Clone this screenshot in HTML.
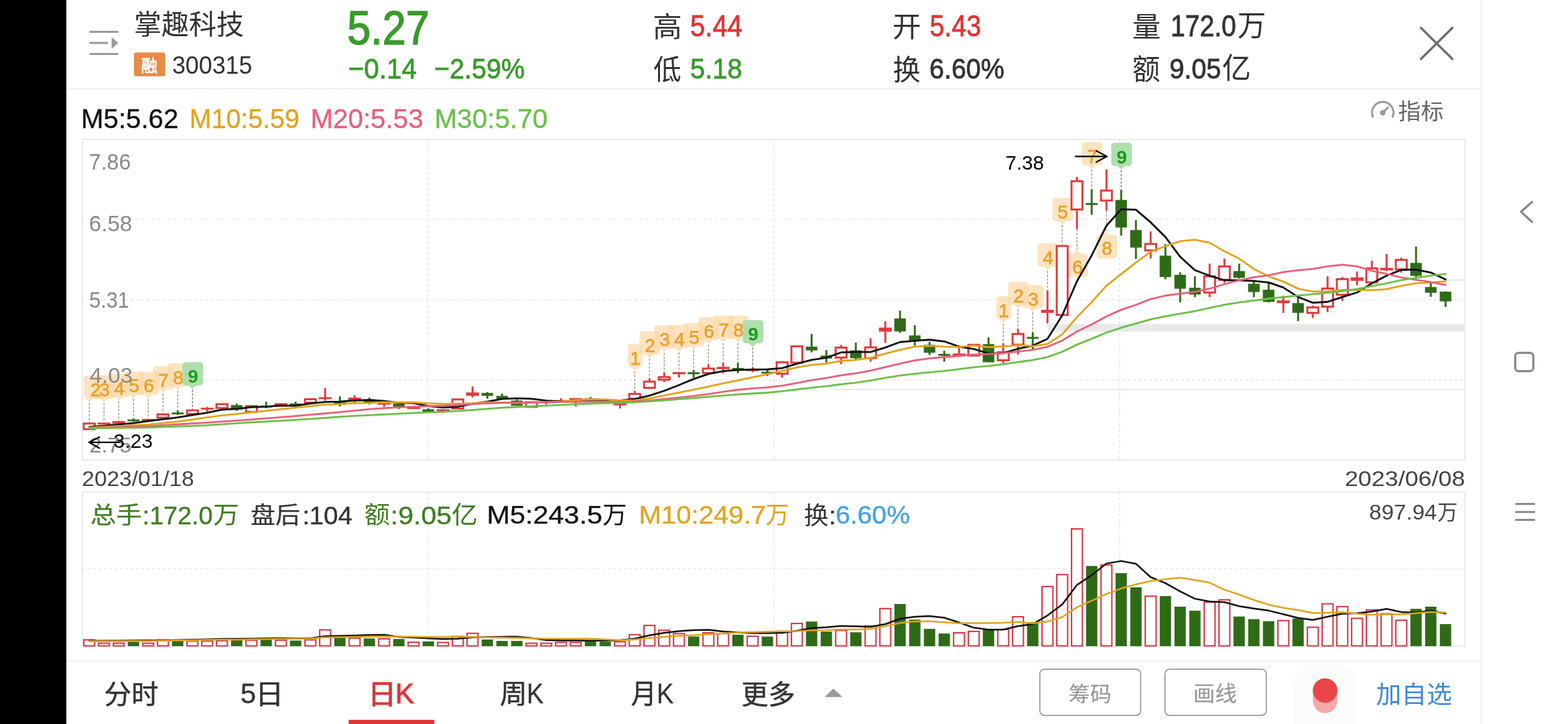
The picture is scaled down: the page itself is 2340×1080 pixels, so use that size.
<!DOCTYPE html>
<html lang="zh-CN">
<head>
<meta charset="utf-8">
<title>掌趣科技 300315 日K</title>
<style>
html,body{margin:0;padding:0;background:#ffffff;}
body{width:2340px;height:1080px;overflow:hidden;position:relative;font-family:"Liberation Sans","Noto Sans CJK SC",sans-serif;}
.leftbar{position:absolute;left:0;top:0;width:99.4px;height:1080px;background:#000000;}
.hsep{position:absolute;left:99px;width:2111px;height:2px;background:#f1f1f1;}
.vsep{position:absolute;left:2209.5px;top:0;width:1.6px;height:1080px;background:#e4e4e4;}
svg{position:absolute;left:0;top:0;will-change:transform;}
svg text{font-family:"Liberation Sans","Noto Sans CJK SC",sans-serif;white-space:pre;font-kerning:none;}
</style>
</head>
<body>
<div class="leftbar"></div>
<div class="hsep" style="top:130.7px"></div>
<div class="hsep" style="top:985.3px"></div>
<div class="vsep"></div>
<svg width="2340" height="1080" viewBox="0 0 2340 1080">
<g id="header">
<line x1="133.5" y1="47.5" x2="176.5" y2="47.5" stroke="#999999" stroke-width="3"/>
<line x1="133.5" y1="64" x2="161" y2="64" stroke="#999999" stroke-width="3"/>
<line x1="133.5" y1="80.5" x2="176.5" y2="80.5" stroke="#999999" stroke-width="3"/>
<path d="M166.6 55.5 L176.4 64 L166.6 73 Z" fill="#9a9a9a"/>
<text transform="translate(200.08 51.36) scale(0.9939 1)" font-size="41.21" fill="#333333">掌趣科技</text>
<rect x="200" y="78.2" width="46.6" height="35.5" fill="#e98b45" rx="3.5"/>
<text transform="translate(210.6 106.66) scale(0.9624 1)" font-size="25.52" fill="#ffffff" stroke="#ffffff" stroke-width="0.8">融</text>
<text transform="translate(256.94 109.63) scale(0.9757 1)" font-size="36.72" fill="#333333">300315</text>
<text transform="translate(518.28 65.99) scale(0.8903 1)" font-size="70.62" fill="#3a9a2c" stroke="#3a9a2c" stroke-width="1.6">5.27</text>
<text transform="translate(519.71 117.08) scale(0.9539 1)" font-size="42.37" fill="#3a9a2c" stroke="#3a9a2c" stroke-width="0.8">−0.14</text>
<text transform="translate(648.05 117.08) scale(0.9321 1)" font-size="42.37" fill="#3a9a2c" stroke="#3a9a2c" stroke-width="0.8">−2.59%</text>
<text transform="translate(974.13 54.95) scale(1.0285 1)" font-size="42.41" fill="#333333">高</text>
<text transform="translate(1030.1 53.76) scale(0.9155 1)" font-size="43.64" fill="#e03437" stroke="#e03437" stroke-width="0.8">5.44</text>
<text transform="translate(975.08 118.93) scale(0.9831 1)" font-size="42.52" fill="#333333">低</text>
<text transform="translate(1030.11 117.08) scale(0.9388 1)" font-size="42.37" fill="#3a9a2c" stroke="#3a9a2c" stroke-width="0.8">5.18</text>
<text transform="translate(1331.77 54.72) scale(1.0073 1)" font-size="42.61" fill="#333333">开</text>
<text transform="translate(1387.42 53.76) scale(0.9043 1)" font-size="43.64" fill="#e03437" stroke="#e03437" stroke-width="0.8">5.43</text>
<text transform="translate(1332.51 119.06) scale(0.9715 1)" font-size="42.47" fill="#333333">换</text>
<text transform="translate(1387 117.08) scale(0.9314 1)" font-size="42.37" fill="#333333" stroke="#333333" stroke-width="0.8">6.60%</text>
<text transform="translate(1689.7 55.16) scale(0.9995 1)" font-size="42.53" fill="#333333">量</text>
<text transform="translate(1747.02 53.76) scale(0.8955 1)" font-size="43.64" fill="#333333" stroke="#333333" stroke-width="0.8">172.0</text>
<text transform="translate(1846.86 53.87) scale(0.9584 1)" font-size="44.27" fill="#333333">万</text>
<text transform="translate(1690.09 118.85) scale(0.9526 1)" font-size="43.43" fill="#333333">额</text>
<text transform="translate(1745.14 117.08) scale(0.9377 1)" font-size="42.37" fill="#333333" stroke="#333333" stroke-width="0.8">9.05</text>
<text transform="translate(1823.66 117.39) scale(0.9897 1)" font-size="43.67" fill="#333333">亿</text>
<path d="M2120.5 41.5 L2167.5 88 M2167.5 41.5 L2120.5 88" stroke="#6e6e6e" stroke-width="3.3" stroke-linecap="round" fill="none"/>
</g>
<g id="legend">
<text transform="translate(121.1 190.6) scale(1.0054 1)" font-size="39.97" fill="#111111" stroke="#111111" stroke-width="0.35">M5:5.62</text>
<text transform="translate(282.77 190.6) scale(0.9846 1)" font-size="39.97" fill="#e0a41e" stroke="#e0a41e" stroke-width="0.35">M10:5.59</text>
<text transform="translate(463.39 190.6) scale(1.0104 1)" font-size="39.97" fill="#e8607c" stroke="#e8607c" stroke-width="0.35">M20:5.53</text>
<text transform="translate(648.38 190.6) scale(1.0135 1)" font-size="39.97" fill="#6cc04a" stroke="#6cc04a" stroke-width="0.35">M30:5.70</text>
<path d="M2048.7 174.2 A16 16 0 1 1 2078.3 174.2" stroke="#999999" stroke-width="3" fill="none" stroke-linecap="round"/>
<circle cx="2063.5" cy="168.2" r="4" fill="#999999"/>
<path d="M2063.5 168.2 L2071.3 160.2" stroke="#999999" stroke-width="3" stroke-linecap="round"/>
<text transform="translate(2086.45 178.21) scale(1.0385 1)" font-size="32.75" fill="#666666">指标</text>
</g>
<g id="kchart">
<line x1="122.8" y1="327" x2="2186.4" y2="327" stroke="#e2e2e2" stroke-width="1.2" stroke-dasharray="4.2 3.8"/>
<line x1="122.8" y1="446.8" x2="2186.4" y2="446.8" stroke="#e2e2e2" stroke-width="1.2" stroke-dasharray="4.2 3.8"/>
<line x1="122.8" y1="566.8" x2="2186.4" y2="566.8" stroke="#e2e2e2" stroke-width="1.2" stroke-dasharray="4.2 3.8"/>
<line x1="638.6" y1="207.8" x2="638.6" y2="686" stroke="#e2e2e2" stroke-width="1.2" stroke-dasharray="4.2 3.8"/>
<line x1="1154.9" y1="207.8" x2="1154.9" y2="686" stroke="#e2e2e2" stroke-width="1.2" stroke-dasharray="4.2 3.8"/>
<line x1="1670.8" y1="207.8" x2="1670.8" y2="686" stroke="#e2e2e2" stroke-width="1.2" stroke-dasharray="4.2 3.8"/>
<rect x="1563.3" y="483.3" width="623.1" height="11.2" fill="#e9e9e9"/>
<line x1="1243" y1="581" x2="2186.4" y2="581" stroke="#e6e6e6" stroke-width="2"/>
<line x1="2157.8" y1="417.8" x2="2186.4" y2="417.8" stroke="#e4e4e4" stroke-width="2"/>
<rect x="122.8" y="207.8" width="2063.6" height="478.2" fill="none" stroke="#e7e7e7" stroke-width="1.8"/>
<path d="M130.3 560 h21 a5 5 0 0 1 5 5 v24.9 a5 5 0 0 1 -5 5 H138.7 L133.2 599.9 L127.7 594.9 H130.3 a5 5 0 0 1 -5 -5 v-24.9 a5 5 0 0 1 5 -5 Z" fill="#fbd9a8" fill-opacity="0.70"/>
<line x1="133.2" y1="600.9" x2="133.2" y2="630.4" stroke="#6f6634" stroke-width="0.9" stroke-dasharray="3.6 2"/>
<path d="M145.3 560 h21 a5 5 0 0 1 5 5 v24.9 a5 5 0 0 1 -5 5 H160.7 L155.2 599.9 L149.7 594.9 H145.3 a5 5 0 0 1 -5 -5 v-24.9 a5 5 0 0 1 5 -5 Z" fill="#fbd9a8" fill-opacity="0.70"/>
<line x1="155.2" y1="600.9" x2="155.2" y2="630.4" stroke="#6f6634" stroke-width="0.9" stroke-dasharray="3.6 2"/>
<path d="M167.3 557.8 h21 a5 5 0 0 1 5 5 v24.9 a5 5 0 0 1 -5 5 H182.7 L177.2 597.7 L171.7 592.7 H167.3 a5 5 0 0 1 -5 -5 v-24.9 a5 5 0 0 1 5 -5 Z" fill="#fbd9a8" fill-opacity="0.70"/>
<line x1="177.2" y1="598.7" x2="177.2" y2="628.2" stroke="#6f6634" stroke-width="0.9" stroke-dasharray="3.6 2"/>
<path d="M189.3 554 h21 a5 5 0 0 1 5 5 v24.9 a5 5 0 0 1 -5 5 H204.7 L199.2 593.9 L193.7 588.9 H189.3 a5 5 0 0 1 -5 -5 v-24.9 a5 5 0 0 1 5 -5 Z" fill="#fbd9a8" fill-opacity="0.70"/>
<line x1="199.2" y1="594.9" x2="199.2" y2="624.4" stroke="#6f6634" stroke-width="0.9" stroke-dasharray="3.6 2"/>
<path d="M211.3 554.5 h21 a5 5 0 0 1 5 5 v24.9 a5 5 0 0 1 -5 5 H226.7 L221.2 594.4 L215.7 589.4 H211.3 a5 5 0 0 1 -5 -5 v-24.9 a5 5 0 0 1 5 -5 Z" fill="#fbd9a8" fill-opacity="0.70"/>
<line x1="221.2" y1="595.4" x2="221.2" y2="624.9" stroke="#6f6634" stroke-width="0.9" stroke-dasharray="3.6 2"/>
<path d="M233.3 546.3 h21 a5 5 0 0 1 5 5 v24.9 a5 5 0 0 1 -5 5 H248.7 L243.2 586.2 L237.7 581.2 H233.3 a5 5 0 0 1 -5 -5 v-24.9 a5 5 0 0 1 5 -5 Z" fill="#fbd9a8" fill-opacity="0.70"/>
<line x1="243.2" y1="587.2" x2="243.2" y2="616.7" stroke="#6f6634" stroke-width="0.9" stroke-dasharray="3.6 2"/>
<path d="M255.3 541.8 h21 a5 5 0 0 1 5 5 v24.9 a5 5 0 0 1 -5 5 H270.7 L265.2 581.7 L259.7 576.7 H255.3 a5 5 0 0 1 -5 -5 v-24.9 a5 5 0 0 1 5 -5 Z" fill="#fbd9a8" fill-opacity="0.70"/>
<line x1="265.2" y1="582.7" x2="265.2" y2="612.2" stroke="#6f6634" stroke-width="0.9" stroke-dasharray="3.6 2"/>
<path d="M277.3 540.3 h21 a5 5 0 0 1 5 5 v24.9 a5 5 0 0 1 -5 5 H292.7 L287.2 580.2 L281.7 575.2 H277.3 a5 5 0 0 1 -5 -5 v-24.9 a5 5 0 0 1 5 -5 Z" fill="#a9dba9" fill-opacity="0.92"/>
<line x1="287.2" y1="581.2" x2="287.2" y2="610.7" stroke="#27471e" stroke-width="0.9" stroke-dasharray="3.6 2"/>
<path d="M941.9 512.8 h11.8 a5 5 0 0 1 5 5 v24.9 a5 5 0 0 1 -5 5 H952.7 L947.2 552.7 L941.7 547.7 H941.9 a5 5 0 0 1 -5 -5 v-24.9 a5 5 0 0 1 5 -5 Z" fill="#fbd9a8" fill-opacity="0.70"/>
<line x1="947.2" y1="553.7" x2="947.2" y2="583.2" stroke="#6f6634" stroke-width="0.9" stroke-dasharray="3.6 2"/>
<path d="M959.3 494 h21 a5 5 0 0 1 5 5 v24.9 a5 5 0 0 1 -5 5 H974.7 L969.2 533.9 L963.7 528.9 H959.3 a5 5 0 0 1 -5 -5 v-24.9 a5 5 0 0 1 5 -5 Z" fill="#fbd9a8" fill-opacity="0.70"/>
<line x1="969.2" y1="534.9" x2="969.2" y2="564.4" stroke="#6f6634" stroke-width="0.9" stroke-dasharray="3.6 2"/>
<path d="M981.3 485.2 h21 a5 5 0 0 1 5 5 v24.9 a5 5 0 0 1 -5 5 H996.7 L991.2 525.1 L985.7 520.1 H981.3 a5 5 0 0 1 -5 -5 v-24.9 a5 5 0 0 1 5 -5 Z" fill="#fbd9a8" fill-opacity="0.70"/>
<line x1="991.2" y1="526.1" x2="991.2" y2="555.6" stroke="#6f6634" stroke-width="0.9" stroke-dasharray="3.6 2"/>
<path d="M1003.3 484.7 h21 a5 5 0 0 1 5 5 v24.9 a5 5 0 0 1 -5 5 H1018.7 L1013.2 524.6 L1007.7 519.6 H1003.3 a5 5 0 0 1 -5 -5 v-24.9 a5 5 0 0 1 5 -5 Z" fill="#fbd9a8" fill-opacity="0.70"/>
<line x1="1013.2" y1="525.6" x2="1013.2" y2="555.1" stroke="#6f6634" stroke-width="0.9" stroke-dasharray="3.6 2"/>
<path d="M1025.3 481.8 h21 a5 5 0 0 1 5 5 v24.9 a5 5 0 0 1 -5 5 H1040.7 L1035.2 521.7 L1029.7 516.7 H1025.3 a5 5 0 0 1 -5 -5 v-24.9 a5 5 0 0 1 5 -5 Z" fill="#fbd9a8" fill-opacity="0.70"/>
<line x1="1035.2" y1="522.7" x2="1035.2" y2="552.2" stroke="#6f6634" stroke-width="0.9" stroke-dasharray="3.6 2"/>
<path d="M1047.3 472.9 h21 a5 5 0 0 1 5 5 v24.9 a5 5 0 0 1 -5 5 H1062.7 L1057.2 512.8 L1051.7 507.8 H1047.3 a5 5 0 0 1 -5 -5 v-24.9 a5 5 0 0 1 5 -5 Z" fill="#fbd9a8" fill-opacity="0.70"/>
<line x1="1057.2" y1="513.8" x2="1057.2" y2="543.3" stroke="#6f6634" stroke-width="0.9" stroke-dasharray="3.6 2"/>
<path d="M1069.3 470.7 h21 a5 5 0 0 1 5 5 v24.9 a5 5 0 0 1 -5 5 H1084.7 L1079.2 510.6 L1073.7 505.6 H1069.3 a5 5 0 0 1 -5 -5 v-24.9 a5 5 0 0 1 5 -5 Z" fill="#fbd9a8" fill-opacity="0.70"/>
<line x1="1079.2" y1="511.6" x2="1079.2" y2="541.1" stroke="#6f6634" stroke-width="0.9" stroke-dasharray="3.6 2"/>
<path d="M1091.3 470.7 h21 a5 5 0 0 1 5 5 v24.9 a5 5 0 0 1 -5 5 H1106.7 L1101.2 510.6 L1095.7 505.6 H1091.3 a5 5 0 0 1 -5 -5 v-24.9 a5 5 0 0 1 5 -5 Z" fill="#fbd9a8" fill-opacity="0.70"/>
<line x1="1101.2" y1="511.6" x2="1101.2" y2="541.1" stroke="#6f6634" stroke-width="0.9" stroke-dasharray="3.6 2"/>
<path d="M1113.3 477.4 h21 a5 5 0 0 1 5 5 v24.9 a5 5 0 0 1 -5 5 H1128.7 L1123.2 517.3 L1117.7 512.3 H1113.3 a5 5 0 0 1 -5 -5 v-24.9 a5 5 0 0 1 5 -5 Z" fill="#a9dba9" fill-opacity="0.92"/>
<line x1="1123.2" y1="518.3" x2="1123.2" y2="547.8" stroke="#27471e" stroke-width="0.9" stroke-dasharray="3.6 2"/>
<path d="M1491.9 441.8 h11.8 a5 5 0 0 1 5 5 v24.9 a5 5 0 0 1 -5 5 H1502.7 L1497.2 481.7 L1491.7 476.7 H1491.9 a5 5 0 0 1 -5 -5 v-24.9 a5 5 0 0 1 5 -5 Z" fill="#fbd9a8" fill-opacity="0.70"/>
<line x1="1497.2" y1="482.7" x2="1497.2" y2="512.2" stroke="#6f6634" stroke-width="0.9" stroke-dasharray="3.6 2"/>
<path d="M1509.3 420.3 h21 a5 5 0 0 1 5 5 v24.9 a5 5 0 0 1 -5 5 H1524.7 L1519.2 460.2 L1513.7 455.2 H1509.3 a5 5 0 0 1 -5 -5 v-24.9 a5 5 0 0 1 5 -5 Z" fill="#fbd9a8" fill-opacity="0.70"/>
<line x1="1519.2" y1="461.2" x2="1519.2" y2="490.7" stroke="#6f6634" stroke-width="0.9" stroke-dasharray="3.6 2"/>
<path d="M1531.3 425.2 h21 a5 5 0 0 1 5 5 v24.9 a5 5 0 0 1 -5 5 H1546.7 L1541.2 465.1 L1535.7 460.1 H1531.3 a5 5 0 0 1 -5 -5 v-24.9 a5 5 0 0 1 5 -5 Z" fill="#fbd9a8" fill-opacity="0.70"/>
<line x1="1541.2" y1="466.1" x2="1541.2" y2="495.6" stroke="#6f6634" stroke-width="0.9" stroke-dasharray="3.6 2"/>
<path d="M1553.3 362.9 h21 a5 5 0 0 1 5 5 v24.9 a5 5 0 0 1 -5 5 H1568.7 L1563.2 402.8 L1557.7 397.8 H1553.3 a5 5 0 0 1 -5 -5 v-24.9 a5 5 0 0 1 5 -5 Z" fill="#fbd9a8" fill-opacity="0.70"/>
<line x1="1563.2" y1="403.8" x2="1563.2" y2="433.3" stroke="#6f6634" stroke-width="0.9" stroke-dasharray="3.6 2"/>
<path d="M1575.3 295.1 h21 a5 5 0 0 1 5 5 v24.9 a5 5 0 0 1 -5 5 H1590.7 L1585.2 335 L1579.7 330 H1575.3 a5 5 0 0 1 -5 -5 v-24.9 a5 5 0 0 1 5 -5 Z" fill="#fbd9a8" fill-opacity="0.70"/>
<line x1="1585.2" y1="336" x2="1585.2" y2="365.5" stroke="#6f6634" stroke-width="0.9" stroke-dasharray="3.6 2"/>
<path d="M1597.3 378.3 H1601.7 L1607.2 373.3 L1612.7 378.3 H1618.3 a5 5 0 0 1 5 5 v24.9 a5 5 0 0 1 -5 5 h-21 a5 5 0 0 1 -5 -5 v-24.9 a5 5 0 0 1 5 -5 Z" fill="#fbd9a8" fill-opacity="0.70"/>
<line x1="1607.2" y1="341.7" x2="1607.2" y2="372.3" stroke="#6f6634" stroke-width="0.9" stroke-dasharray="3.6 2"/>
<path d="M1619.3 211.9 h21 a5 5 0 0 1 5 5 v24.9 a5 5 0 0 1 -5 5 H1634.7 L1629.2 251.8 L1623.7 246.8 H1619.3 a5 5 0 0 1 -5 -5 v-24.9 a5 5 0 0 1 5 -5 Z" fill="#fbd9a8" fill-opacity="0.70"/>
<line x1="1629.2" y1="252.8" x2="1629.2" y2="282.3" stroke="#6f6634" stroke-width="0.9" stroke-dasharray="3.6 2"/>
<path d="M1641.3 350.5 H1645.7 L1651.2 345.5 L1656.7 350.5 H1662.3 a5 5 0 0 1 5 5 v24.9 a5 5 0 0 1 -5 5 h-21 a5 5 0 0 1 -5 -5 v-24.9 a5 5 0 0 1 5 -5 Z" fill="#fbd9a8" fill-opacity="0.70"/>
<line x1="1651.2" y1="313.9" x2="1651.2" y2="344.5" stroke="#6f6634" stroke-width="0.9" stroke-dasharray="3.6 2"/>
<path d="M1663.3 212.8 h21 a5 5 0 0 1 5 5 v24.9 a5 5 0 0 1 -5 5 H1678.7 L1673.2 252.7 L1667.7 247.7 H1663.3 a5 5 0 0 1 -5 -5 v-24.9 a5 5 0 0 1 5 -5 Z" fill="#a9dba9" fill-opacity="0.92"/>
<line x1="1673.2" y1="253.7" x2="1673.2" y2="283.2" stroke="#27471e" stroke-width="0.9" stroke-dasharray="3.6 2"/>
<text x="142.6" y="590.85" font-size="28" text-anchor="middle" fill="#eba22e" font-weight="normal" stroke="#eba22e" stroke-width="0.8">2</text>
<text x="156.1" y="590.85" font-size="28" text-anchor="middle" fill="#eba22e" font-weight="normal" stroke="#eba22e" stroke-width="0.8">3</text>
<text x="178.1" y="588.65" font-size="28" text-anchor="middle" fill="#eba22e" font-weight="normal" stroke="#eba22e" stroke-width="0.8">4</text>
<text x="200.1" y="584.85" font-size="28" text-anchor="middle" fill="#eba22e" font-weight="normal" stroke="#eba22e" stroke-width="0.8">5</text>
<text x="222.1" y="585.35" font-size="28" text-anchor="middle" fill="#eba22e" font-weight="normal" stroke="#eba22e" stroke-width="0.8">6</text>
<text x="244.1" y="577.15" font-size="28" text-anchor="middle" fill="#eba22e" font-weight="normal" stroke="#eba22e" stroke-width="0.8">7</text>
<text x="266.1" y="572.65" font-size="28" text-anchor="middle" fill="#eba22e" font-weight="normal" stroke="#eba22e" stroke-width="0.8">8</text>
<text x="288.1" y="571.15" font-size="28" text-anchor="middle" fill="#17a017" font-weight="bold">9</text>
<text x="948.1" y="543.65" font-size="28" text-anchor="middle" fill="#eba22e" font-weight="normal" stroke="#eba22e" stroke-width="0.8">1</text>
<text x="970.1" y="524.85" font-size="28" text-anchor="middle" fill="#eba22e" font-weight="normal" stroke="#eba22e" stroke-width="0.8">2</text>
<text x="992.1" y="516.05" font-size="28" text-anchor="middle" fill="#eba22e" font-weight="normal" stroke="#eba22e" stroke-width="0.8">3</text>
<text x="1014.1" y="515.55" font-size="28" text-anchor="middle" fill="#eba22e" font-weight="normal" stroke="#eba22e" stroke-width="0.8">4</text>
<text x="1036.1" y="512.65" font-size="28" text-anchor="middle" fill="#eba22e" font-weight="normal" stroke="#eba22e" stroke-width="0.8">5</text>
<text x="1058.1" y="503.75" font-size="28" text-anchor="middle" fill="#eba22e" font-weight="normal" stroke="#eba22e" stroke-width="0.8">6</text>
<text x="1080.1" y="501.55" font-size="28" text-anchor="middle" fill="#eba22e" font-weight="normal" stroke="#eba22e" stroke-width="0.8">7</text>
<text x="1102.1" y="501.55" font-size="28" text-anchor="middle" fill="#eba22e" font-weight="normal" stroke="#eba22e" stroke-width="0.8">8</text>
<text x="1124.1" y="508.25" font-size="28" text-anchor="middle" fill="#17a017" font-weight="bold">9</text>
<text x="1498.1" y="472.65" font-size="28" text-anchor="middle" fill="#eba22e" font-weight="normal" stroke="#eba22e" stroke-width="0.8">1</text>
<text x="1520.1" y="451.15" font-size="28" text-anchor="middle" fill="#eba22e" font-weight="normal" stroke="#eba22e" stroke-width="0.8">2</text>
<text x="1542.1" y="456.05" font-size="28" text-anchor="middle" fill="#eba22e" font-weight="normal" stroke="#eba22e" stroke-width="0.8">3</text>
<text x="1564.1" y="393.75" font-size="28" text-anchor="middle" fill="#eba22e" font-weight="normal" stroke="#eba22e" stroke-width="0.8">4</text>
<text x="1586.1" y="325.95" font-size="28" text-anchor="middle" fill="#eba22e" font-weight="normal" stroke="#eba22e" stroke-width="0.8">5</text>
<text x="1608.1" y="407.75" font-size="28" text-anchor="middle" fill="#eba22e" font-weight="normal" stroke="#eba22e" stroke-width="0.8">6</text>
<text x="1630.1" y="242.75" font-size="28" text-anchor="middle" fill="#eba22e" font-weight="normal" stroke="#eba22e" stroke-width="0.8">7</text>
<text x="1652.1" y="379.95" font-size="28" text-anchor="middle" fill="#eba22e" font-weight="normal" stroke="#eba22e" stroke-width="0.8">8</text>
<text x="1674.1" y="243.65" font-size="28" text-anchor="middle" fill="#17a017" font-weight="bold">9</text>
<text transform="translate(132.86 252.68) scale(0.9861 1)" font-size="32.49" fill="#888888">7.86</text>
<text transform="translate(132.82 344.68) scale(1.0188 1)" font-size="32.49" fill="#888888">6.58</text>
<text transform="translate(133.28 458.98) scale(0.9413 1)" font-size="32.49" fill="#888888">5.31</text>
<text transform="translate(133.64 571.39) scale(1.0651 1)" font-size="31.07" fill="#888888">4.03</text>
<text transform="translate(133.58 674.69) scale(1.0380 1)" font-size="31.07" fill="#888888">2.75</text>
<rect x="125.05" y="631.85" width="16.3" height="8.3" fill="#ffffff" stroke="#e23a3c" stroke-width="2.9"/>
<rect x="145.6" y="630.4" width="19.2" height="2.9" fill="#e23a3c"/>
<rect x="167.6" y="628.2" width="19.2" height="3.6" fill="#e23a3c"/>
<line x1="199.2" y1="624.4" x2="199.2" y2="629.3" stroke="#2f6b17" stroke-width="2.9"/>
<rect x="190.3" y="625.7" width="17.8" height="2.8" fill="#2f6b17"/>
<rect x="211.6" y="624.9" width="19.2" height="3.3" fill="#e23a3c"/>
<rect x="235.05" y="618.15" width="16.3" height="4.8" fill="#ffffff" stroke="#e23a3c" stroke-width="2.9"/>
<line x1="265.2" y1="612.2" x2="265.2" y2="618.9" stroke="#2f6b17" stroke-width="2.9"/>
<rect x="256.3" y="615.3" width="17.8" height="2.8" fill="#2f6b17"/>
<rect x="279.05" y="612.15" width="16.3" height="5.3" fill="#ffffff" stroke="#e23a3c" stroke-width="2.9"/>
<line x1="309.2" y1="607.2" x2="309.2" y2="610.2" stroke="#e23a3c" stroke-width="2.9"/>
<line x1="309.2" y1="609.2" x2="309.2" y2="613.8" stroke="#e23a3c" stroke-width="2.9"/>
<rect x="299.6" y="608.3" width="19.2" height="2.8" fill="#e23a3c"/>
<line x1="331.2" y1="609.6" x2="331.2" y2="612.6" stroke="#e23a3c" stroke-width="2.9"/>
<rect x="323.05" y="602.85" width="16.3" height="5.8" fill="#ffffff" stroke="#e23a3c" stroke-width="2.9"/>
<line x1="353.2" y1="602.1" x2="353.2" y2="613" stroke="#2f6b17" stroke-width="2.9"/>
<rect x="344.6" y="604.3" width="17.2" height="6.8" fill="#2f6b17"/>
<rect x="367.05" y="605.75" width="16.3" height="8.7" fill="#ffffff" stroke="#e23a3c" stroke-width="2.9"/>
<line x1="397.2" y1="599.2" x2="397.2" y2="609.1" stroke="#2f6b17" stroke-width="2.9"/>
<rect x="388.3" y="605.1" width="17.8" height="2.8" fill="#2f6b17"/>
<rect x="409.6" y="601.4" width="19.2" height="5.4" fill="#e23a3c"/>
<line x1="441.2" y1="599.2" x2="441.2" y2="605" stroke="#2f6b17" stroke-width="2.9"/>
<rect x="432.3" y="601.9" width="17.8" height="2.8" fill="#2f6b17"/>
<rect x="455.05" y="595.55" width="16.3" height="5.1" fill="#ffffff" stroke="#e23a3c" stroke-width="2.9"/>
<line x1="485.2" y1="578.9" x2="485.2" y2="593.4" stroke="#e23a3c" stroke-width="2.9"/>
<line x1="485.2" y1="594.4" x2="485.2" y2="597.5" stroke="#e23a3c" stroke-width="2.9"/>
<rect x="475.6" y="592.5" width="19.2" height="2.8" fill="#e23a3c"/>
<line x1="507.2" y1="591.2" x2="507.2" y2="606.2" stroke="#2f6b17" stroke-width="2.9"/>
<rect x="498.6" y="599.2" width="17.2" height="4.4" fill="#2f6b17"/>
<line x1="529.2" y1="589.8" x2="529.2" y2="593.6" stroke="#e23a3c" stroke-width="2.9"/>
<line x1="529.2" y1="597.6" x2="529.2" y2="602.9" stroke="#e23a3c" stroke-width="2.9"/>
<rect x="519.6" y="593.1" width="19.2" height="5" fill="#e23a3c"/>
<line x1="551.2" y1="593.1" x2="551.2" y2="603.3" stroke="#2f6b17" stroke-width="2.9"/>
<rect x="542.6" y="595.6" width="17.2" height="4.4" fill="#2f6b17"/>
<line x1="573.2" y1="603.1" x2="573.2" y2="607.2" stroke="#e23a3c" stroke-width="2.9"/>
<rect x="563.6" y="600.7" width="19.2" height="2.9" fill="#e23a3c"/>
<line x1="595.2" y1="602.1" x2="595.2" y2="610.1" stroke="#2f6b17" stroke-width="2.9"/>
<rect x="586.6" y="602.1" width="17.2" height="4.7" fill="#2f6b17"/>
<rect x="607.6" y="606.5" width="19.2" height="3.6" fill="#e23a3c"/>
<line x1="639.2" y1="609" x2="639.2" y2="614.5" stroke="#2f6b17" stroke-width="2.9"/>
<rect x="630.6" y="610.6" width="17.2" height="3.9" fill="#2f6b17"/>
<line x1="661.2" y1="612.5" x2="661.2" y2="616" stroke="#e23a3c" stroke-width="2.9"/>
<rect x="651.6" y="610.4" width="19.2" height="2.8" fill="#e23a3c"/>
<rect x="675.05" y="595.85" width="16.3" height="13.6" fill="#ffffff" stroke="#e23a3c" stroke-width="2.9"/>
<line x1="705.2" y1="576.3" x2="705.2" y2="585.9" stroke="#e23a3c" stroke-width="2.9"/>
<line x1="705.2" y1="590" x2="705.2" y2="592.7" stroke="#e23a3c" stroke-width="2.9"/>
<rect x="695.6" y="585.4" width="19.2" height="5.1" fill="#e23a3c"/>
<line x1="727.2" y1="585" x2="727.2" y2="594.6" stroke="#2f6b17" stroke-width="2.9"/>
<rect x="718.6" y="586.2" width="17.2" height="4.3" fill="#2f6b17"/>
<line x1="749.2" y1="587.3" x2="749.2" y2="594.9" stroke="#2f6b17" stroke-width="2.9"/>
<rect x="740.6" y="590.5" width="17.2" height="4.4" fill="#2f6b17"/>
<line x1="771.2" y1="595.6" x2="771.2" y2="605.3" stroke="#2f6b17" stroke-width="2.9"/>
<rect x="762.6" y="597.5" width="17.2" height="7.8" fill="#2f6b17"/>
<rect x="785.05" y="599.95" width="16.3" height="7" fill="#ffffff" stroke="#e23a3c" stroke-width="2.9"/>
<line x1="815.2" y1="600.9" x2="815.2" y2="603.6" stroke="#e23a3c" stroke-width="2.9"/>
<rect x="805.6" y="598.5" width="19.2" height="2.9" fill="#e23a3c"/>
<line x1="837.2" y1="594.1" x2="837.2" y2="597.5" stroke="#e23a3c" stroke-width="2.9"/>
<rect x="827.6" y="596.7" width="19.2" height="2.8" fill="#e23a3c"/>
<line x1="859.2" y1="595.8" x2="859.2" y2="606.5" stroke="#e23a3c" stroke-width="2.9"/>
<rect x="849.6" y="593.8" width="19.2" height="2.8" fill="#e23a3c"/>
<line x1="881.2" y1="592.3" x2="881.2" y2="596.3" stroke="#2f6b17" stroke-width="2.9"/>
<rect x="872.3" y="594.2" width="17.8" height="2.8" fill="#2f6b17"/>
<line x1="903.2" y1="596.3" x2="903.2" y2="598" stroke="#2f6b17" stroke-width="2.9"/>
<rect x="894.3" y="595.75" width="17.8" height="2.8" fill="#2f6b17"/>
<line x1="925.2" y1="600" x2="925.2" y2="602.6" stroke="#e23a3c" stroke-width="2.9"/>
<line x1="925.2" y1="603.8" x2="925.2" y2="609.4" stroke="#e23a3c" stroke-width="2.9"/>
<rect x="915.6" y="601.8" width="19.2" height="2.8" fill="#e23a3c"/>
<line x1="947.2" y1="583.2" x2="947.2" y2="586.7" stroke="#e23a3c" stroke-width="2.9"/>
<rect x="939.05" y="587.65" width="16.3" height="7.2" fill="#ffffff" stroke="#e23a3c" stroke-width="2.9"/>
<line x1="969.2" y1="564.4" x2="969.2" y2="568.3" stroke="#e23a3c" stroke-width="2.9"/>
<rect x="961.05" y="569.25" width="16.3" height="9.3" fill="#ffffff" stroke="#e23a3c" stroke-width="2.9"/>
<line x1="991.2" y1="555.6" x2="991.2" y2="561.6" stroke="#e23a3c" stroke-width="2.9"/>
<line x1="991.2" y1="567.3" x2="991.2" y2="570" stroke="#e23a3c" stroke-width="2.9"/>
<rect x="983.05" y="562.55" width="16.3" height="3.8" fill="#ffffff" stroke="#e23a3c" stroke-width="2.9"/>
<line x1="1013.2" y1="557.7" x2="1013.2" y2="563.3" stroke="#e23a3c" stroke-width="2.9"/>
<rect x="1003.6" y="555.1" width="19.2" height="3.1" fill="#e23a3c"/>
<line x1="1035.2" y1="552.2" x2="1035.2" y2="563.3" stroke="#2f6b17" stroke-width="2.9"/>
<rect x="1026.3" y="555.3" width="17.8" height="2.8" fill="#2f6b17"/>
<line x1="1057.2" y1="543.3" x2="1057.2" y2="548.9" stroke="#e23a3c" stroke-width="2.9"/>
<rect x="1049.05" y="549.85" width="16.3" height="6.5" fill="#ffffff" stroke="#e23a3c" stroke-width="2.9"/>
<line x1="1079.2" y1="541.1" x2="1079.2" y2="547.8" stroke="#e23a3c" stroke-width="2.9"/>
<line x1="1079.2" y1="550.2" x2="1079.2" y2="556.7" stroke="#e23a3c" stroke-width="2.9"/>
<rect x="1069.6" y="547.3" width="19.2" height="3.4" fill="#e23a3c"/>
<line x1="1101.2" y1="541.1" x2="1101.2" y2="556.7" stroke="#2f6b17" stroke-width="2.9"/>
<rect x="1092.6" y="548.9" width="17.2" height="3.3" fill="#2f6b17"/>
<line x1="1123.2" y1="547.8" x2="1123.2" y2="551.6" stroke="#e23a3c" stroke-width="2.9"/>
<line x1="1123.2" y1="552.8" x2="1123.2" y2="555.1" stroke="#e23a3c" stroke-width="2.9"/>
<rect x="1113.6" y="550.8" width="19.2" height="2.8" fill="#e23a3c"/>
<line x1="1145.2" y1="550" x2="1145.2" y2="561" stroke="#2f6b17" stroke-width="2.9"/>
<rect x="1136.3" y="554.6" width="17.8" height="2.8" fill="#2f6b17"/>
<line x1="1167.2" y1="558.4" x2="1167.2" y2="563.3" stroke="#e23a3c" stroke-width="2.9"/>
<rect x="1159.05" y="540.35" width="16.3" height="17.1" fill="#ffffff" stroke="#e23a3c" stroke-width="2.9"/>
<rect x="1181.05" y="516.65" width="16.3" height="24.4" fill="#ffffff" stroke="#e23a3c" stroke-width="2.9"/>
<line x1="1211.2" y1="498.2" x2="1211.2" y2="525.6" stroke="#2f6b17" stroke-width="2.9"/>
<rect x="1202.6" y="517.1" width="17.2" height="5.6" fill="#2f6b17"/>
<line x1="1233.2" y1="522.2" x2="1233.2" y2="540.7" stroke="#2f6b17" stroke-width="2.9"/>
<rect x="1224.6" y="530.4" width="17.2" height="4.5" fill="#2f6b17"/>
<line x1="1255.2" y1="514.4" x2="1255.2" y2="517.6" stroke="#e23a3c" stroke-width="2.9"/>
<line x1="1255.2" y1="534.4" x2="1255.2" y2="543.3" stroke="#e23a3c" stroke-width="2.9"/>
<rect x="1247.05" y="518.55" width="16.3" height="14.9" fill="#ffffff" stroke="#e23a3c" stroke-width="2.9"/>
<line x1="1277.2" y1="511.1" x2="1277.2" y2="536.7" stroke="#2f6b17" stroke-width="2.9"/>
<rect x="1268.6" y="522.7" width="17.2" height="11.7" fill="#2f6b17"/>
<line x1="1299.2" y1="504.4" x2="1299.2" y2="517.2" stroke="#e23a3c" stroke-width="2.9"/>
<line x1="1299.2" y1="535.1" x2="1299.2" y2="539.6" stroke="#e23a3c" stroke-width="2.9"/>
<rect x="1291.05" y="518.15" width="16.3" height="16" fill="#ffffff" stroke="#e23a3c" stroke-width="2.9"/>
<line x1="1321.2" y1="479.3" x2="1321.2" y2="489.2" stroke="#e23a3c" stroke-width="2.9"/>
<line x1="1321.2" y1="494.3" x2="1321.2" y2="511.6" stroke="#e23a3c" stroke-width="2.9"/>
<rect x="1311.6" y="488.7" width="19.2" height="6.1" fill="#e23a3c"/>
<line x1="1343.2" y1="463.3" x2="1343.2" y2="496.7" stroke="#2f6b17" stroke-width="2.9"/>
<rect x="1334.6" y="475.1" width="17.2" height="19.3" fill="#2f6b17"/>
<line x1="1365.2" y1="485.1" x2="1365.2" y2="515.6" stroke="#2f6b17" stroke-width="2.9"/>
<rect x="1356.6" y="500.4" width="17.2" height="7.4" fill="#2f6b17"/>
<line x1="1387.2" y1="510" x2="1387.2" y2="529.6" stroke="#2f6b17" stroke-width="2.9"/>
<rect x="1378.6" y="514.4" width="17.2" height="11.8" fill="#2f6b17"/>
<line x1="1409.2" y1="523.3" x2="1409.2" y2="539.6" stroke="#2f6b17" stroke-width="2.9"/>
<rect x="1400.3" y="527.9" width="17.8" height="2.8" fill="#2f6b17"/>
<line x1="1431.2" y1="515.6" x2="1431.2" y2="527.8" stroke="#e23a3c" stroke-width="2.9"/>
<rect x="1421.6" y="527.3" width="19.2" height="3.8" fill="#e23a3c"/>
<rect x="1445.05" y="514.35" width="16.3" height="16" fill="#ffffff" stroke="#e23a3c" stroke-width="2.9"/>
<line x1="1475.2" y1="503.3" x2="1475.2" y2="540.4" stroke="#2f6b17" stroke-width="2.9"/>
<rect x="1466.6" y="513.3" width="17.2" height="27.1" fill="#2f6b17"/>
<line x1="1497.2" y1="512.2" x2="1497.2" y2="524.5" stroke="#e23a3c" stroke-width="2.9"/>
<line x1="1497.2" y1="538.4" x2="1497.2" y2="541.8" stroke="#e23a3c" stroke-width="2.9"/>
<rect x="1489.05" y="525.45" width="16.3" height="12" fill="#ffffff" stroke="#e23a3c" stroke-width="2.9"/>
<line x1="1519.2" y1="490.7" x2="1519.2" y2="497.2" stroke="#e23a3c" stroke-width="2.9"/>
<line x1="1519.2" y1="515.1" x2="1519.2" y2="528.9" stroke="#e23a3c" stroke-width="2.9"/>
<rect x="1511.05" y="498.15" width="16.3" height="16" fill="#ffffff" stroke="#e23a3c" stroke-width="2.9"/>
<line x1="1541.2" y1="495.6" x2="1541.2" y2="522.2" stroke="#2f6b17" stroke-width="2.9"/>
<rect x="1532.3" y="502.6" width="17.8" height="2.8" fill="#2f6b17"/>
<line x1="1563.2" y1="433.3" x2="1563.2" y2="462.7" stroke="#e23a3c" stroke-width="2.9"/>
<line x1="1563.2" y1="466.2" x2="1563.2" y2="482.5" stroke="#e23a3c" stroke-width="2.9"/>
<rect x="1553.6" y="462.2" width="19.2" height="4.5" fill="#e23a3c"/>
<rect x="1577.05" y="366.95" width="16.3" height="102.9" fill="#ffffff" stroke="#e23a3c" stroke-width="2.9"/>
<line x1="1607.2" y1="263.9" x2="1607.2" y2="269.3" stroke="#e23a3c" stroke-width="2.9"/>
<line x1="1607.2" y1="313.4" x2="1607.2" y2="341.7" stroke="#e23a3c" stroke-width="2.9"/>
<rect x="1599.05" y="270.25" width="16.3" height="42.2" fill="#ffffff" stroke="#e23a3c" stroke-width="2.9"/>
<line x1="1629.2" y1="282.3" x2="1629.2" y2="320.6" stroke="#2f6b17" stroke-width="2.9"/>
<rect x="1620.3" y="302.9" width="17.8" height="2.8" fill="#2f6b17"/>
<line x1="1651.2" y1="252.8" x2="1651.2" y2="283.3" stroke="#e23a3c" stroke-width="2.9"/>
<line x1="1651.2" y1="300.1" x2="1651.2" y2="313.9" stroke="#e23a3c" stroke-width="2.9"/>
<rect x="1643.05" y="284.25" width="16.3" height="14.9" fill="#ffffff" stroke="#e23a3c" stroke-width="2.9"/>
<line x1="1673.2" y1="283.2" x2="1673.2" y2="351.5" stroke="#2f6b17" stroke-width="2.9"/>
<rect x="1664.6" y="298.3" width="17.2" height="41.1" fill="#2f6b17"/>
<line x1="1695.2" y1="328.3" x2="1695.2" y2="386.2" stroke="#2f6b17" stroke-width="2.9"/>
<rect x="1686.6" y="343.2" width="17.2" height="26.2" fill="#2f6b17"/>
<line x1="1717.2" y1="345.3" x2="1717.2" y2="363" stroke="#e23a3c" stroke-width="2.9"/>
<line x1="1717.2" y1="374.5" x2="1717.2" y2="385.6" stroke="#e23a3c" stroke-width="2.9"/>
<rect x="1709.05" y="363.95" width="16.3" height="9.6" fill="#ffffff" stroke="#e23a3c" stroke-width="2.9"/>
<line x1="1739.2" y1="364.2" x2="1739.2" y2="416.7" stroke="#2f6b17" stroke-width="2.9"/>
<rect x="1730.6" y="381.4" width="17.2" height="31.9" fill="#2f6b17"/>
<line x1="1761.2" y1="406.2" x2="1761.2" y2="451.1" stroke="#2f6b17" stroke-width="2.9"/>
<rect x="1752.6" y="410" width="17.2" height="20.7" fill="#2f6b17"/>
<line x1="1783.2" y1="412.2" x2="1783.2" y2="443.3" stroke="#2f6b17" stroke-width="2.9"/>
<rect x="1774.6" y="429.3" width="17.2" height="10" fill="#2f6b17"/>
<line x1="1805.2" y1="393.3" x2="1805.2" y2="411.2" stroke="#e23a3c" stroke-width="2.9"/>
<line x1="1805.2" y1="437.3" x2="1805.2" y2="443.3" stroke="#e23a3c" stroke-width="2.9"/>
<rect x="1797.05" y="412.15" width="16.3" height="24.2" fill="#ffffff" stroke="#e23a3c" stroke-width="2.9"/>
<line x1="1827.2" y1="385.6" x2="1827.2" y2="396.5" stroke="#e23a3c" stroke-width="2.9"/>
<line x1="1827.2" y1="418.4" x2="1827.2" y2="422.2" stroke="#e23a3c" stroke-width="2.9"/>
<rect x="1819.05" y="397.45" width="16.3" height="20" fill="#ffffff" stroke="#e23a3c" stroke-width="2.9"/>
<line x1="1849.2" y1="393.3" x2="1849.2" y2="415.6" stroke="#2f6b17" stroke-width="2.9"/>
<rect x="1840.6" y="404.4" width="17.2" height="10" fill="#2f6b17"/>
<line x1="1871.2" y1="417.8" x2="1871.2" y2="443.3" stroke="#2f6b17" stroke-width="2.9"/>
<rect x="1862.6" y="423.3" width="17.2" height="12.3" fill="#2f6b17"/>
<line x1="1893.2" y1="421.1" x2="1893.2" y2="451.1" stroke="#2f6b17" stroke-width="2.9"/>
<rect x="1884.6" y="432.2" width="17.2" height="18.2" fill="#2f6b17"/>
<line x1="1915.2" y1="441.1" x2="1915.2" y2="448.7" stroke="#e23a3c" stroke-width="2.9"/>
<line x1="1915.2" y1="451.7" x2="1915.2" y2="466.7" stroke="#e23a3c" stroke-width="2.9"/>
<rect x="1905.6" y="448.2" width="19.2" height="4" fill="#e23a3c"/>
<line x1="1937.2" y1="440" x2="1937.2" y2="478.9" stroke="#2f6b17" stroke-width="2.9"/>
<rect x="1928.6" y="452.2" width="17.2" height="14.5" fill="#2f6b17"/>
<line x1="1959.2" y1="455.6" x2="1959.2" y2="457.6" stroke="#e23a3c" stroke-width="2.9"/>
<line x1="1959.2" y1="467.7" x2="1959.2" y2="474.4" stroke="#e23a3c" stroke-width="2.9"/>
<rect x="1951.05" y="458.55" width="16.3" height="8.2" fill="#ffffff" stroke="#e23a3c" stroke-width="2.9"/>
<line x1="1981.2" y1="412.2" x2="1981.2" y2="429.4" stroke="#e23a3c" stroke-width="2.9"/>
<line x1="1981.2" y1="458.4" x2="1981.2" y2="465.6" stroke="#e23a3c" stroke-width="2.9"/>
<rect x="1973.05" y="430.35" width="16.3" height="27.1" fill="#ffffff" stroke="#e23a3c" stroke-width="2.9"/>
<line x1="2003.2" y1="413.3" x2="2003.2" y2="415.4" stroke="#e23a3c" stroke-width="2.9"/>
<line x1="2003.2" y1="440.6" x2="2003.2" y2="448.9" stroke="#e23a3c" stroke-width="2.9"/>
<rect x="1995.05" y="416.35" width="16.3" height="23.3" fill="#ffffff" stroke="#e23a3c" stroke-width="2.9"/>
<line x1="2025.2" y1="405.1" x2="2025.2" y2="414.3" stroke="#e23a3c" stroke-width="2.9"/>
<line x1="2025.2" y1="418.4" x2="2025.2" y2="425.6" stroke="#e23a3c" stroke-width="2.9"/>
<rect x="2015.6" y="413.8" width="19.2" height="5.1" fill="#e23a3c"/>
<line x1="2047.2" y1="388.9" x2="2047.2" y2="399.4" stroke="#e23a3c" stroke-width="2.9"/>
<rect x="2039.05" y="400.35" width="16.3" height="20.9" fill="#ffffff" stroke="#e23a3c" stroke-width="2.9"/>
<line x1="2069.2" y1="378.9" x2="2069.2" y2="400.1" stroke="#e23a3c" stroke-width="2.9"/>
<line x1="2069.2" y1="402.8" x2="2069.2" y2="404.4" stroke="#e23a3c" stroke-width="2.9"/>
<rect x="2059.6" y="399.6" width="19.2" height="3.7" fill="#e23a3c"/>
<line x1="2091.2" y1="384.4" x2="2091.2" y2="386.7" stroke="#e23a3c" stroke-width="2.9"/>
<line x1="2091.2" y1="402.8" x2="2091.2" y2="406.7" stroke="#e23a3c" stroke-width="2.9"/>
<rect x="2083.05" y="387.65" width="16.3" height="14.2" fill="#ffffff" stroke="#e23a3c" stroke-width="2.9"/>
<line x1="2113.2" y1="367.8" x2="2113.2" y2="413.3" stroke="#2f6b17" stroke-width="2.9"/>
<rect x="2104.6" y="392.2" width="17.2" height="19.4" fill="#2f6b17"/>
<line x1="2135.2" y1="420" x2="2135.2" y2="442.7" stroke="#2f6b17" stroke-width="2.9"/>
<rect x="2126.6" y="428.2" width="17.2" height="8.5" fill="#2f6b17"/>
<line x1="2157.2" y1="434.4" x2="2157.2" y2="457.8" stroke="#2f6b17" stroke-width="2.9"/>
<rect x="2148.6" y="435.1" width="17.2" height="14.5" fill="#2f6b17"/>
<polyline points="133.2,637 155.2,635.2 177.2,633.2 199.2,631.2 221.2,628.2 243.2,625.46 265.2,622.72 287.2,619.22 309.2,615.74 331.2,611.04 353.2,609.92 375.2,607.44 397.2,606.6 419.2,604.94 441.2,605.32 463.2,601.92 485.2,599.64 507.2,599.06 529.2,597.4 551.2,596.74 573.2,598.06 595.2,600.84 617.2,601.42 639.2,605.7 661.2,607.82 683.2,606.56 705.2,602.28 727.2,599.08 749.2,595.16 771.2,594.1 793.2,594.92 815.2,597.54 837.2,598.84 859.2,598.68 881.2,596.88 903.2,596.78 925.2,597.5 947.2,595.34 969.2,590.08 991.2,583.04 1013.2,574.46 1035.2,565.38 1057.2,557.82 1079.2,553.72 1101.2,551.94 1123.2,551.14 1145.2,551 1167.2,549.1 1189.2,542.68 1211.2,536.78 1233.2,533.54 1255.2,525.76 1277.2,524.86 1299.2,525.16 1321.2,518.36 1343.2,510.26 1365.2,508.4 1387.2,506.76 1409.2,509.28 1431.2,517 1453.2,520.7 1475.2,527.22 1497.2,526.78 1519.2,520.26 1541.2,515.6 1563.2,505.46 1585.2,470.48 1607.2,419.44 1629.2,380.96 1651.2,336.72 1673.2,312.16 1695.2,312.94 1717.2,331.68 1739.2,353.48 1761.2,383.06 1783.2,403.04 1805.2,411.3 1827.2,418 1849.2,418.22 1871.2,419.2 1893.2,421.42 1915.2,428.92 1937.2,443.06 1959.2,451.6 1981.2,450.26 2003.2,443.16 2025.2,436.28 2047.2,422.72 2069.2,411.22 2091.2,402.68 2113.2,402.02 2135.2,406.6 2157.2,416.74" fill="none" stroke="#111111" stroke-width="2.8" stroke-linejoin="round" stroke-linecap="round"/>
<polyline points="133.2,637.8 155.2,636.67 177.2,635.55 199.2,634.42 221.2,633.3 243.2,631.1 265.2,628.9 287.2,625.77 309.2,622.67 331.2,619.62 353.2,617.69 375.2,615.08 397.2,612.91 419.2,610.34 441.2,608.18 463.2,605.92 485.2,603.54 507.2,602.83 529.2,601.17 551.2,601.03 573.2,599.99 595.2,600.24 617.2,600.24 639.2,601.55 661.2,602.28 683.2,602.31 705.2,601.56 727.2,600.25 749.2,600.43 771.2,600.96 793.2,600.74 815.2,599.91 837.2,598.96 859.2,596.92 881.2,595.49 903.2,595.85 925.2,597.52 947.2,597.09 969.2,594.38 991.2,589.96 1013.2,585.62 1035.2,581.44 1057.2,576.58 1079.2,571.9 1101.2,567.49 1123.2,562.8 1145.2,558.19 1167.2,553.46 1189.2,548.2 1211.2,544.36 1233.2,542.34 1255.2,538.38 1277.2,536.98 1299.2,533.92 1321.2,527.57 1343.2,521.9 1365.2,517.08 1387.2,515.81 1409.2,517.22 1431.2,517.68 1453.2,515.48 1475.2,517.81 1497.2,516.77 1519.2,514.77 1541.2,516.3 1563.2,513.08 1585.2,498.85 1607.2,473.11 1629.2,450.61 1651.2,426.16 1673.2,408.81 1695.2,391.71 1717.2,375.56 1739.2,367.22 1761.2,359.89 1783.2,357.6 1805.2,362.12 1827.2,374.84 1849.2,385.85 1871.2,401.13 1893.2,412.23 1915.2,420.11 1937.2,430.53 1959.2,434.91 1981.2,434.73 2003.2,432.29 2025.2,432.6 2047.2,432.89 2069.2,431.41 2091.2,426.47 2113.2,422.59 2135.2,421.44 2157.2,419.73" fill="none" stroke="#e0a41e" stroke-width="2.8" stroke-linejoin="round" stroke-linecap="round"/>
<polyline points="133.2,638.4 155.2,637.7 177.2,637 199.2,636.3 221.2,635.6 243.2,634.3 265.2,633 287.2,631.7 309.2,630.4 331.2,628.92 353.2,627.43 375.2,625.92 397.2,624.17 419.2,622.41 441.2,620.65 463.2,618.72 485.2,616.75 507.2,614.78 529.2,612.64 551.2,610.33 573.2,608.84 595.2,607.66 617.2,606.58 639.2,605.95 661.2,605.23 683.2,604.12 705.2,602.55 727.2,601.54 749.2,600.8 771.2,600.99 793.2,600.37 815.2,600.07 837.2,599.6 859.2,599.23 881.2,598.88 903.2,599.08 925.2,599.54 947.2,598.67 969.2,597.4 991.2,595.46 1013.2,593.18 1035.2,590.67 1057.2,587.77 1079.2,584.41 1101.2,581.49 1123.2,579.33 1145.2,577.86 1167.2,575.27 1189.2,571.29 1211.2,567.16 1233.2,563.98 1255.2,559.91 1277.2,556.78 1299.2,552.91 1321.2,547.53 1343.2,542.35 1365.2,537.63 1387.2,534.63 1409.2,532.71 1431.2,531.02 1453.2,528.91 1475.2,528.09 1497.2,526.87 1519.2,524.35 1541.2,521.93 1563.2,517.49 1585.2,507.97 1607.2,494.46 1629.2,483.91 1651.2,471.92 1673.2,462.14 1695.2,454.76 1717.2,446.16 1739.2,440.99 1761.2,438.09 1783.2,435.34 1805.2,430.49 1827.2,423.98 1849.2,418.23 1871.2,413.64 1893.2,410.52 1915.2,405.91 1937.2,403.04 1959.2,401.06 1981.2,397.31 2003.2,394.94 2025.2,397.36 2047.2,403.86 2069.2,408.63 2091.2,413.8 2113.2,417.41 2135.2,420.77 2157.2,425.13" fill="none" stroke="#e8607c" stroke-width="2.8" stroke-linejoin="round" stroke-linecap="round"/>
<polyline points="133.2,638.9 155.2,638.62 177.2,638.35 199.2,638.07 221.2,637.8 243.2,636.95 265.2,636.1 287.2,635.25 309.2,634.4 331.2,632.93 353.2,631.47 375.2,630 397.2,628.78 419.2,627.56 441.2,626.34 463.2,624.86 485.2,623.32 507.2,621.77 529.2,620.45 551.2,619.36 573.2,618.27 595.2,617.2 617.2,616.2 639.2,615.2 661.2,614.15 683.2,613.11 705.2,611.54 727.2,609.84 749.2,608.14 771.2,607.2 793.2,606.14 815.2,605.08 837.2,604.04 859.2,602.94 881.2,601.98 903.2,601.36 925.2,600.87 947.2,600.06 969.2,598.66 991.2,597.32 1013.2,595.45 1035.2,593.86 1057.2,591.93 1079.2,590.12 1101.2,588.42 1123.2,586.99 1145.2,585.76 1167.2,583.6 1189.2,581 1211.2,578.43 1233.2,576.23 1255.2,573.24 1277.2,570.84 1299.2,567.58 1321.2,563.52 1343.2,560.18 1365.2,557.6 1387.2,555.45 1409.2,553.27 1431.2,550.67 1453.2,547.81 1475.2,545.88 1497.2,543.44 1519.2,540.2 1541.2,537.12 1563.2,532.59 1585.2,524.71 1607.2,514.13 1629.2,505.34 1651.2,496.07 1673.2,488.88 1695.2,482.63 1717.2,476.44 1739.2,471.97 1761.2,467.92 1783.2,464.19 1805.2,459.35 1827.2,454.59 1849.2,451.23 1871.2,448.32 1893.2,445.51 1915.2,443.21 1937.2,440.95 1959.2,438.97 1981.2,436.97 2003.2,434.32 2025.2,431.19 2047.2,426.95 2069.2,422.62 2091.2,417.92 2113.2,414.54 2135.2,411.09 2157.2,408.61" fill="none" stroke="#6cc04a" stroke-width="2.8" stroke-linejoin="round" stroke-linecap="round"/>
<text transform="translate(1500.49 252.5) scale(0.9913 1)" font-size="29.8" fill="#000000">7.38</text>
<path d="M1605 233.4 H1651 M1636 225 L1652 233.4 L1636 241.8" stroke="#000" stroke-width="2.2" fill="none" stroke-linecap="round" stroke-linejoin="round"/>
<text transform="translate(169.46 668.2) scale(0.9967 1)" font-size="30.09" fill="#000000">3.23</text>
<path d="M179.2 659.8 H134 M148.5 652 L132.8 659.8 L148.5 668.5" stroke="#000" stroke-width="2.2" fill="none" stroke-linecap="round" stroke-linejoin="round"/>
</g>
<g id="dates">
<text transform="translate(122.32 724.68) scale(1.0527 1)" font-size="31.78" fill="#444444">2023/01/18</text>
<text transform="translate(2006.9 724.68) scale(1.1289 1)" font-size="31.78" fill="#444444">2023/06/08</text>
</g>
<g id="vol">
<line x1="122.8" y1="848.5" x2="2186.4" y2="848.5" stroke="#e2e2e2" stroke-width="1.2" stroke-dasharray="4.2 3.8"/>
<line x1="638.6" y1="734.3" x2="638.6" y2="963.6" stroke="#e2e2e2" stroke-width="1.2" stroke-dasharray="4.2 3.8"/>
<line x1="1154.9" y1="734.3" x2="1154.9" y2="963.6" stroke="#e2e2e2" stroke-width="1.2" stroke-dasharray="4.2 3.8"/>
<line x1="1670.8" y1="734.3" x2="1670.8" y2="963.6" stroke="#e2e2e2" stroke-width="1.2" stroke-dasharray="4.2 3.8"/>
<rect x="122.8" y="734.3" width="2063.6" height="229.3" fill="none" stroke="#e7e7e7" stroke-width="1.8"/>
<rect x="125.1" y="954.45" width="16.2" height="9" fill="#ffffff" stroke="#d83b46" stroke-width="2.1"/>
<rect x="147.1" y="959.55" width="16.2" height="3.9" fill="#ffffff" stroke="#d83b46" stroke-width="2.1"/>
<rect x="169.1" y="959.55" width="16.2" height="3.9" fill="#ffffff" stroke="#d83b46" stroke-width="2.1"/>
<rect x="190.75" y="957.2" width="16.9" height="6.7" fill="#2f6b17"/>
<rect x="213.1" y="959.55" width="16.2" height="3.9" fill="#ffffff" stroke="#d83b46" stroke-width="2.1"/>
<rect x="235.1" y="954.45" width="16.2" height="9" fill="#ffffff" stroke="#d83b46" stroke-width="2.1"/>
<rect x="256.75" y="956.1" width="16.9" height="7.8" fill="#2f6b17"/>
<rect x="279.1" y="956.25" width="16.2" height="7.2" fill="#ffffff" stroke="#d83b46" stroke-width="2.1"/>
<rect x="301.1" y="956.25" width="16.2" height="7.2" fill="#ffffff" stroke="#d83b46" stroke-width="2.1"/>
<rect x="323.1" y="955.85" width="16.2" height="7.6" fill="#ffffff" stroke="#d83b46" stroke-width="2.1"/>
<rect x="344.75" y="953.9" width="16.9" height="10" fill="#2f6b17"/>
<rect x="367.1" y="955.15" width="16.2" height="8.3" fill="#ffffff" stroke="#d83b46" stroke-width="2.1"/>
<rect x="388.75" y="953.2" width="16.9" height="10.7" fill="#2f6b17"/>
<rect x="411.1" y="955.15" width="16.2" height="8.3" fill="#ffffff" stroke="#d83b46" stroke-width="2.1"/>
<rect x="432.75" y="955.5" width="16.9" height="8.4" fill="#2f6b17"/>
<rect x="455.1" y="954.45" width="16.2" height="9" fill="#ffffff" stroke="#d83b46" stroke-width="2.1"/>
<rect x="477.1" y="939.55" width="16.2" height="23.9" fill="#ffffff" stroke="#d83b46" stroke-width="2.1"/>
<rect x="498.75" y="951" width="16.9" height="12.9" fill="#2f6b17"/>
<rect x="521.1" y="951.85" width="16.2" height="11.6" fill="#ffffff" stroke="#d83b46" stroke-width="2.1"/>
<rect x="542.75" y="952.3" width="16.9" height="11.6" fill="#2f6b17"/>
<rect x="565.1" y="952.95" width="16.2" height="10.5" fill="#ffffff" stroke="#d83b46" stroke-width="2.1"/>
<rect x="586.75" y="953.2" width="16.9" height="10.7" fill="#2f6b17"/>
<rect x="609.1" y="958.05" width="16.2" height="5.4" fill="#ffffff" stroke="#d83b46" stroke-width="2.1"/>
<rect x="630.75" y="956.8" width="16.9" height="7.1" fill="#2f6b17"/>
<rect x="653.1" y="958.45" width="16.2" height="5" fill="#ffffff" stroke="#d83b46" stroke-width="2.1"/>
<rect x="675.1" y="949.55" width="16.2" height="13.9" fill="#ffffff" stroke="#d83b46" stroke-width="2.1"/>
<rect x="697.1" y="944.75" width="16.2" height="18.7" fill="#ffffff" stroke="#d83b46" stroke-width="2.1"/>
<rect x="718.75" y="953.9" width="16.9" height="10" fill="#2f6b17"/>
<rect x="740.75" y="956.1" width="16.9" height="7.8" fill="#2f6b17"/>
<rect x="762.75" y="956.1" width="16.9" height="7.8" fill="#2f6b17"/>
<rect x="785.1" y="959.55" width="16.2" height="3.9" fill="#ffffff" stroke="#d83b46" stroke-width="2.1"/>
<rect x="807.1" y="959.55" width="16.2" height="3.9" fill="#ffffff" stroke="#d83b46" stroke-width="2.1"/>
<rect x="829.1" y="958.45" width="16.2" height="5" fill="#ffffff" stroke="#d83b46" stroke-width="2.1"/>
<rect x="851.1" y="958.45" width="16.2" height="5" fill="#ffffff" stroke="#d83b46" stroke-width="2.1"/>
<rect x="872.75" y="956.8" width="16.9" height="7.1" fill="#2f6b17"/>
<rect x="894.75" y="957.2" width="16.9" height="6.7" fill="#2f6b17"/>
<rect x="917.1" y="957.35" width="16.2" height="6.1" fill="#ffffff" stroke="#d83b46" stroke-width="2.1"/>
<rect x="939.1" y="946.75" width="16.2" height="16.7" fill="#ffffff" stroke="#d83b46" stroke-width="2.1"/>
<rect x="961.1" y="932.95" width="16.2" height="30.5" fill="#ffffff" stroke="#d83b46" stroke-width="2.1"/>
<rect x="983.1" y="940.25" width="16.2" height="23.2" fill="#ffffff" stroke="#d83b46" stroke-width="2.1"/>
<rect x="1005.1" y="945.15" width="16.2" height="18.3" fill="#ffffff" stroke="#d83b46" stroke-width="2.1"/>
<rect x="1026.75" y="949.5" width="16.9" height="14.4" fill="#2f6b17"/>
<rect x="1049.1" y="944.05" width="16.2" height="19.4" fill="#ffffff" stroke="#d83b46" stroke-width="2.1"/>
<rect x="1071.1" y="945.15" width="16.2" height="18.3" fill="#ffffff" stroke="#d83b46" stroke-width="2.1"/>
<rect x="1092.75" y="946.8" width="16.9" height="17.1" fill="#2f6b17"/>
<rect x="1115.1" y="949.15" width="16.2" height="14.3" fill="#ffffff" stroke="#d83b46" stroke-width="2.1"/>
<rect x="1136.75" y="949.5" width="16.9" height="14.4" fill="#2f6b17"/>
<rect x="1159.1" y="941.85" width="16.2" height="21.6" fill="#ffffff" stroke="#d83b46" stroke-width="2.1"/>
<rect x="1181.1" y="930.05" width="16.2" height="33.4" fill="#ffffff" stroke="#d83b46" stroke-width="2.1"/>
<rect x="1202.75" y="927.2" width="16.9" height="36.7" fill="#2f6b17"/>
<rect x="1224.75" y="942.1" width="16.9" height="21.8" fill="#2f6b17"/>
<rect x="1247.1" y="940.45" width="16.2" height="23" fill="#ffffff" stroke="#d83b46" stroke-width="2.1"/>
<rect x="1268.75" y="943.2" width="16.9" height="20.7" fill="#2f6b17"/>
<rect x="1291.1" y="933.85" width="16.2" height="29.6" fill="#ffffff" stroke="#d83b46" stroke-width="2.1"/>
<rect x="1313.1" y="907.85" width="16.2" height="55.6" fill="#ffffff" stroke="#d83b46" stroke-width="2.1"/>
<rect x="1334.75" y="901" width="16.9" height="62.9" fill="#2f6b17"/>
<rect x="1356.75" y="924.3" width="16.9" height="39.6" fill="#2f6b17"/>
<rect x="1378.75" y="938.1" width="16.9" height="25.8" fill="#2f6b17"/>
<rect x="1400.75" y="945" width="16.9" height="18.9" fill="#2f6b17"/>
<rect x="1423.1" y="944.05" width="16.2" height="19.4" fill="#ffffff" stroke="#d83b46" stroke-width="2.1"/>
<rect x="1445.1" y="941.85" width="16.2" height="21.6" fill="#ffffff" stroke="#d83b46" stroke-width="2.1"/>
<rect x="1466.75" y="939.2" width="16.9" height="24.7" fill="#2f6b17"/>
<rect x="1489.1" y="938.95" width="16.2" height="24.5" fill="#ffffff" stroke="#d83b46" stroke-width="2.1"/>
<rect x="1511.1" y="920.05" width="16.2" height="43.4" fill="#ffffff" stroke="#d83b46" stroke-width="2.1"/>
<rect x="1532.75" y="928.1" width="16.9" height="35.8" fill="#2f6b17"/>
<rect x="1555.1" y="874.95" width="16.2" height="88.5" fill="#ffffff" stroke="#d83b46" stroke-width="2.1"/>
<rect x="1577.1" y="857.15" width="16.2" height="106.3" fill="#ffffff" stroke="#d83b46" stroke-width="2.1"/>
<rect x="1599.1" y="788.95" width="16.2" height="174.5" fill="#ffffff" stroke="#d83b46" stroke-width="2.1"/>
<rect x="1620.75" y="844.3" width="16.9" height="119.6" fill="#2f6b17"/>
<rect x="1643.1" y="842.75" width="16.2" height="120.7" fill="#ffffff" stroke="#d83b46" stroke-width="2.1"/>
<rect x="1664.75" y="855" width="16.9" height="108.9" fill="#2f6b17"/>
<rect x="1686.75" y="876.1" width="16.9" height="87.8" fill="#2f6b17"/>
<rect x="1709.1" y="889.35" width="16.2" height="74.1" fill="#ffffff" stroke="#d83b46" stroke-width="2.1"/>
<rect x="1730.75" y="889.2" width="16.9" height="74.7" fill="#2f6b17"/>
<rect x="1752.75" y="905" width="16.9" height="58.9" fill="#2f6b17"/>
<rect x="1774.75" y="911" width="16.9" height="52.9" fill="#2f6b17"/>
<rect x="1797.1" y="898.25" width="16.2" height="65.2" fill="#ffffff" stroke="#d83b46" stroke-width="2.1"/>
<rect x="1819.1" y="894.75" width="16.2" height="68.7" fill="#ffffff" stroke="#d83b46" stroke-width="2.1"/>
<rect x="1840.75" y="919.7" width="16.9" height="44.2" fill="#2f6b17"/>
<rect x="1862.75" y="923.6" width="16.9" height="40.3" fill="#2f6b17"/>
<rect x="1884.75" y="926.6" width="16.9" height="37.3" fill="#2f6b17"/>
<rect x="1907.1" y="925.75" width="16.2" height="37.7" fill="#ffffff" stroke="#d83b46" stroke-width="2.1"/>
<rect x="1928.75" y="922.4" width="16.9" height="41.5" fill="#2f6b17"/>
<rect x="1951.1" y="935.65" width="16.2" height="27.8" fill="#ffffff" stroke="#d83b46" stroke-width="2.1"/>
<rect x="1973.1" y="900.65" width="16.2" height="62.8" fill="#ffffff" stroke="#d83b46" stroke-width="2.1"/>
<rect x="1995.1" y="904.85" width="16.2" height="58.6" fill="#ffffff" stroke="#d83b46" stroke-width="2.1"/>
<rect x="2017.1" y="922.45" width="16.2" height="41" fill="#ffffff" stroke="#d83b46" stroke-width="2.1"/>
<rect x="2039.1" y="909.75" width="16.2" height="53.7" fill="#ffffff" stroke="#d83b46" stroke-width="2.1"/>
<rect x="2061.1" y="915.65" width="16.2" height="47.8" fill="#ffffff" stroke="#d83b46" stroke-width="2.1"/>
<rect x="2083.1" y="925.25" width="16.2" height="38.2" fill="#ffffff" stroke="#d83b46" stroke-width="2.1"/>
<rect x="2104.75" y="908.2" width="16.9" height="55.7" fill="#2f6b17"/>
<rect x="2126.75" y="905" width="16.9" height="58.9" fill="#2f6b17"/>
<rect x="2148.75" y="931" width="16.9" height="32.9" fill="#2f6b17"/>
<polyline points="133.2,955.96 155.2,955.84 177.2,955.72 199.2,955.38 221.2,955.26 243.2,955.26 265.2,954.82 287.2,954.16 309.2,953.72 331.2,952.98 353.2,953.12 375.2,952.68 397.2,952.32 419.2,952.1 441.2,952.28 463.2,952.14 485.2,949.02 507.2,948.58 529.2,947.92 551.2,947.28 573.2,946.98 595.2,949.96 617.2,951.12 639.2,952.36 661.2,953.34 683.2,952.66 705.2,950.72 727.2,950.14 749.2,950 771.2,949.78 793.2,951.78 815.2,954.74 837.2,955.4 859.2,955.62 881.2,955.76 903.2,955.54 925.2,955.1 947.2,952.76 969.2,947.66 991.2,944.1 1013.2,941.44 1035.2,940.12 1057.2,939.58 1079.2,942.02 1101.2,943.58 1123.2,944.38 1145.2,944.38 1167.2,943.94 1189.2,940.92 1211.2,937 1233.2,935.84 1255.2,933.78 1277.2,934.3 1299.2,935.06 1321.2,930.97 1343.2,922.96 1365.2,920.06 1387.2,919.06 1409.2,921.48 1431.2,928.53 1453.2,936.36 1475.2,939.34 1497.2,939.26 1519.2,934.02 1541.2,931.11 1563.2,918.07 1585.2,901.84 1607.2,872.61 1629.2,857.94 1651.2,840.62 1673.2,836.88 1695.2,840.92 1717.2,861 1739.2,869.82 1761.2,882.2 1783.2,893.11 1805.2,897.18 1827.2,898.23 1849.2,904.18 1871.2,907.8 1893.2,910.84 1915.2,916.2 1937.2,921.83 1959.2,924.7 1981.2,919.98 2003.2,915.5 2025.2,914.86 2047.2,912.15 2069.2,908.25 2091.2,913.04 2113.2,913.94 2135.2,910.78 2157.2,915.17" fill="none" stroke="#111111" stroke-width="2.5" stroke-linejoin="round" stroke-linecap="round"/>
<polyline points="133.2,956.53 155.2,956.47 177.2,956.41 199.2,956.24 221.2,956.18 243.2,955.61 265.2,955.33 287.2,954.94 309.2,954.55 331.2,954.12 353.2,954.19 375.2,953.75 397.2,953.24 419.2,952.91 441.2,952.63 463.2,952.63 485.2,950.85 507.2,950.45 529.2,950.01 551.2,949.78 573.2,949.56 595.2,949.49 617.2,949.85 639.2,950.14 661.2,950.31 683.2,949.82 705.2,950.34 727.2,950.63 749.2,951.18 771.2,951.56 793.2,952.22 815.2,952.73 837.2,952.77 859.2,952.81 881.2,952.77 903.2,953.66 925.2,954.92 947.2,954.08 969.2,951.64 991.2,949.93 1013.2,948.49 1035.2,947.61 1057.2,946.17 1079.2,944.84 1101.2,943.84 1123.2,942.91 1145.2,942.25 1167.2,941.76 1189.2,941.47 1211.2,940.29 1233.2,940.11 1255.2,939.08 1277.2,939.12 1299.2,937.99 1321.2,933.97 1343.2,929.35 1365.2,926.9 1387.2,926.65 1409.2,928.23 1431.2,929.75 1453.2,929.61 1475.2,929.61 1497.2,929.07 1519.2,927.73 1541.2,929.82 1563.2,927.16 1585.2,920.5 1607.2,905.84 1629.2,896.03 1651.2,886.16 1673.2,877.82 1695.2,871.67 1717.2,866.84 1739.2,863.96 1761.2,861.65 1783.2,865.34 1805.2,869.35 1827.2,879.65 1849.2,887 1871.2,895 1893.2,901.98 1915.2,906.69 1937.2,910.03 1959.2,914.44 1981.2,913.89 2003.2,913.17 2025.2,915.53 2047.2,916.99 2069.2,916.47 2091.2,916.51 2113.2,914.72 2135.2,912.82 2157.2,913.66" fill="none" stroke="#e0a41e" stroke-width="2.5" stroke-linejoin="round" stroke-linecap="round"/>
<text transform="translate(134.74 781.28) scale(1.0834 1)" font-size="35.62" fill="#3f7d22" stroke="#3f7d22" stroke-width="0.2">总手</text>
<text transform="translate(212.16 781.83) scale(1.0868 1)" font-size="36.72" fill="#3f7d22" stroke="#3f7d22" stroke-width="0.35">:</text>
<text transform="translate(223.13 781.83) scale(1.0277 1)" font-size="36.72" fill="#3f7d22" stroke="#3f7d22" stroke-width="0.35">172.0</text>
<text transform="translate(317.98 781.05) scale(1.0803 1)" font-size="36.01" fill="#3f7d22">万</text>
<text transform="translate(374.03 781.13) scale(1.0589 1)" font-size="34.98" fill="#333333" stroke="#333333" stroke-width="0.2">盘后</text>
<text transform="translate(451.16 781.83) scale(1.0868 1)" font-size="36.72" fill="#333333" stroke="#333333" stroke-width="0.35">:</text>
<text transform="translate(461.56 781.83) scale(1.0523 1)" font-size="36.72" fill="#333333" stroke="#333333" stroke-width="0.35">104</text>
<text transform="translate(543.81 781.48) scale(1.0646 1)" font-size="35.94" fill="#3f7d22">额</text>
<text transform="translate(582.86 781.83) scale(1.0868 1)" font-size="36.72" fill="#3f7d22" stroke="#3f7d22" stroke-width="0.35">:</text>
<text transform="translate(594.27 781.83) scale(1.1186 1)" font-size="36.72" fill="#3f7d22" stroke="#3f7d22" stroke-width="0.35">9.05</text>
<text transform="translate(673.89 781.16) scale(1.0675 1)" font-size="36.46" fill="#3f7d22">亿</text>
<text transform="translate(726.5 781.24) scale(1.1362 1)" font-size="36.44" fill="#111111" stroke="#111111" stroke-width="0.35">M5:243.5</text>
<text transform="translate(899.16 781.05) scale(1.0094 1)" font-size="36.01" fill="#111111">万</text>
<text transform="translate(953.41 781.24) scale(1.1023 1)" font-size="36.44" fill="#e0a41e" stroke="#e0a41e" stroke-width="0.35">M10:249.7</text>
<text transform="translate(1142.4 781.05) scale(0.9819 1)" font-size="36.01" fill="#e0a41e">万</text>
<text transform="translate(1199.67 781.6) scale(1.0312 1)" font-size="35.86" fill="#333333">换</text>
<text transform="translate(1236.76 781.83) scale(1.0868 1)" font-size="36.72" fill="#333333" stroke="#333333" stroke-width="0.35">:</text>
<text transform="translate(1246.91 781.24) scale(1.0751 1)" font-size="36.44" fill="#42a2e4" stroke="#42a2e4" stroke-width="0.35">6.60%</text>
<text transform="translate(2043.36 774.68) scale(1.0355 1)" font-size="31.92" fill="#444444">897.94</text>
<text transform="translate(2145.27 774.84) scale(0.9679 1)" font-size="31.17" fill="#444444">万</text>
</g>
<g id="tabs">
<text transform="translate(155.42 1049.99) scale(1.0161 1)" font-size="39.87" fill="#333333" stroke="#333333" stroke-width="0.5">分时</text>
<text transform="translate(358.82 1048.98) scale(1.0073 1)" font-size="41.67" fill="#333333" stroke="#333333" stroke-width="0.3">5</text>
<text transform="translate(381.04 1049.99) scale(1.0420 1)" font-size="40.67" fill="#333333" stroke="#333333" stroke-width="0.5">日</text>
<text transform="translate(548.94 1049.97) scale(1.0332 1)" font-size="41.02" fill="#e03437" stroke="#e03437" stroke-width="1.1">日</text>
<text transform="translate(589.71 1048.98) scale(1.0207 1)" font-size="41.67" fill="#e03437" stroke="#e03437" stroke-width="0.9">K</text>
<text transform="translate(745.95 1049.38) scale(1.0277 1)" font-size="39.75" fill="#333333" stroke="#333333" stroke-width="0.5">周</text>
<text transform="translate(786.11 1048.98) scale(0.8915 1)" font-size="42.23" fill="#333333" stroke="#333333" stroke-width="0.3">K</text>
<text transform="translate(941.7 1049.36) scale(0.9507 1)" font-size="39.98" fill="#333333" stroke="#333333" stroke-width="0.5">月</text>
<text transform="translate(980.08 1048.98) scale(0.8997 1)" font-size="42.23" fill="#333333" stroke="#333333" stroke-width="0.3">K</text>
<text transform="translate(1106.62 1050.05) scale(1.0101 1)" font-size="39.61" fill="#333333" stroke="#333333" stroke-width="0.5">更多</text>
<path d="M1230.5 1039.7 L1243.8 1026.9 L1257.2 1039.7 Z" fill="#999999"/>
<rect x="520.3" y="1073.8" width="127.9" height="6.2" fill="#e03437"/>
<rect x="1551.8" y="998.2" width="150.5" height="69" rx="7" fill="#ffffff" stroke="#8c8c8c" stroke-width="1.5"/>
<text transform="translate(1594.82 1045.51) scale(1.0276 1)" font-size="31.14" fill="#999999" stroke="#999999" stroke-width="0.2">筹码</text>
<rect x="1738.5" y="998.2" width="151.2" height="69" rx="7" fill="#ffffff" stroke="#8c8c8c" stroke-width="1.5"/>
<text transform="translate(1780.67 1045.59) scale(1.0392 1)" font-size="31.34" fill="#999999" stroke="#999999" stroke-width="0.2">画线</text>
<rect x="1931" y="991" width="93" height="110" rx="30" fill="#fbfbfb"/>
<rect x="1959.3" y="1012" width="36.5" height="51.8" rx="18.25" fill="#f5a9a6"/>
<circle cx="1977.5" cy="1030.2" r="18.25" fill="#ea4649"/>
<text transform="translate(2053.54 1048.51) scale(1.0246 1)" font-size="36.94" fill="#3c8ad6">加自选</text>
</g>
<g id="side">
<path d="M2286.2 301.2 L2270 315.8 L2286.2 331" stroke="#888888" stroke-width="3.2" fill="none" stroke-linecap="round" stroke-linejoin="round"/>
<rect x="2261.2" y="526.3" width="27" height="27.4" rx="5" fill="none" stroke="#888888" stroke-width="3.2"/>
<line x1="2262.5" y1="751.8" x2="2289.6" y2="751.8" stroke="#888888" stroke-width="3" stroke-linecap="round"/>
<line x1="2262.5" y1="763.7" x2="2289.6" y2="763.7" stroke="#888888" stroke-width="3" stroke-linecap="round"/>
<line x1="2262.5" y1="775.5" x2="2289.6" y2="775.5" stroke="#888888" stroke-width="3" stroke-linecap="round"/>
</g>
</svg>
</body>
</html>
